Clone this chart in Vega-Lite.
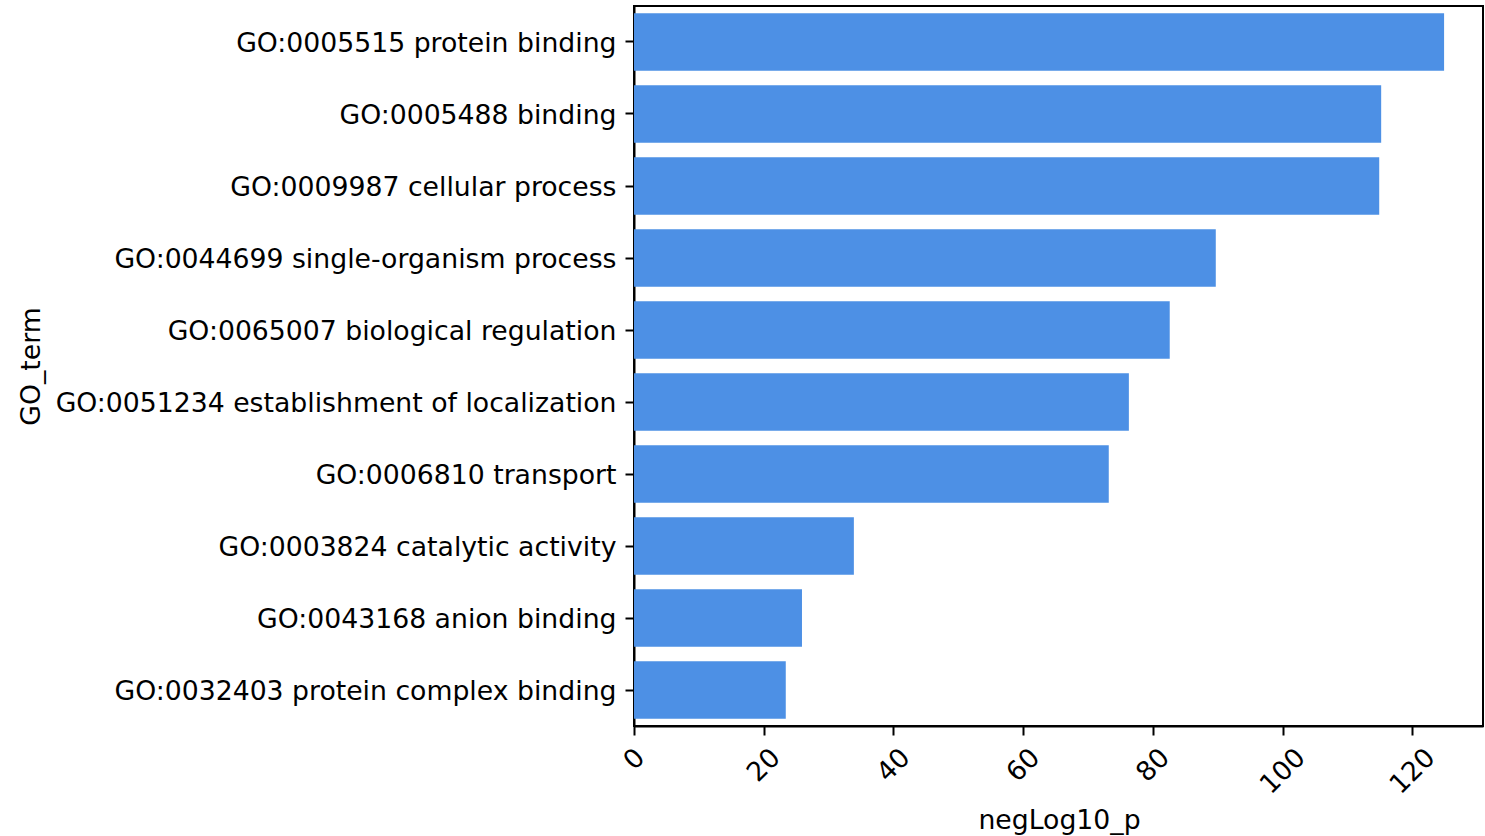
{
  "$schema": "https://vega.github.io/schema/vega-lite/v6.json",
  "autosize": {"type": "none"},
  "width": 849,
  "height": 720,
  "padding": {"left": 634, "top": 6, "right": 2, "bottom": 110},
  "background": "white",
  "data": {
    "values": [
      {"GO_term": "GO:0005515 protein binding", "negLog10_p": 124.9},
      {"GO_term": "GO:0005488 binding", "negLog10_p": 115.2},
      {"GO_term": "GO:0009987 cellular process", "negLog10_p": 114.9},
      {"GO_term": "GO:0044699 single-organism process", "negLog10_p": 89.7},
      {"GO_term": "GO:0065007 biological regulation", "negLog10_p": 82.6},
      {"GO_term": "GO:0051234 establishment of localization", "negLog10_p": 76.3},
      {"GO_term": "GO:0006810 transport", "negLog10_p": 73.2},
      {"GO_term": "GO:0003824 catalytic activity", "negLog10_p": 33.9},
      {"GO_term": "GO:0043168 anion binding", "negLog10_p": 25.9},
      {"GO_term": "GO:0032403 protein complex binding", "negLog10_p": 23.4}
    ]
  },
  "mark": {"type": "bar", "color": "#4d90e5"},
  "encoding": {
    "y": {
      "field": "GO_term",
      "type": "nominal",
      "sort": null,
      "scale": {"paddingInner": 0.2, "paddingOuter": 0.1},
      "axis": {
        "title": "GO_term",
        "titleAngle": -90,
        "titleX": -603,
        "titleY": 360,
        "titleAlign": "center",
        "titleBaseline": "middle",
        "labelPadding": 9,
        "labelOffset": 2,
        "labelLimit": 700
      }
    },
    "x": {
      "field": "negLog10_p",
      "type": "quantitative",
      "scale": {"domain": [0, 130.9], "nice": false, "zero": true},
      "axis": {
        "title": "negLog10_p",
        "values": [0, 20, 40, 60, 80, 100, 120],
        "labelAngle": -45,
        "labelAlign": "center",
        "labelBaseline": "middle",
        "labelPadding": {"condition": [{"test": "datum.value >= 100", "value": 36}, {"test": "datum.value >= 10", "value": 30}], "value": 24},
        "titleX": 425,
        "titleY": 102,
        "titleAlign": "center",
        "titleBaseline": "alphabetic",
        "grid": false
      }
    }
  },
  "config": {
    "view": {"stroke": "black", "strokeWidth": 2},
    "axis": {
      "labelFont": "DejaVu Sans",
      "titleFont": "DejaVu Sans",
      "labelFontSize": 26.7,
      "titleFontSize": 26.7,
      "titleFontWeight": "normal",
      "labelColor": "black",
      "titleColor": "black",
      "domainColor": "black",
      "domainWidth": 2,
      "tickColor": "black",
      "tickWidth": 2,
      "tickSize": 9,
      "grid": false,
      "labelOverlap": false,
      "labelFlush": false
    }
  }
}
